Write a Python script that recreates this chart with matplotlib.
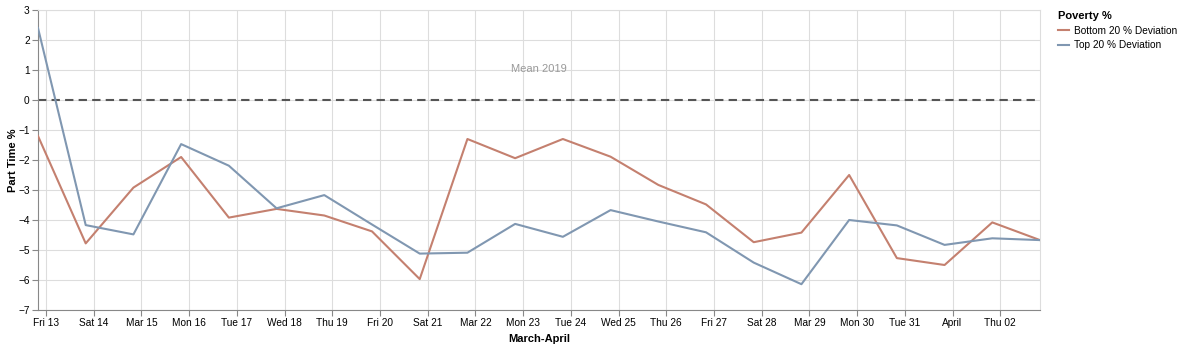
import numpy as np
import pandas as pd
import matplotlib
matplotlib.use("Agg")
import matplotlib.pyplot as plt

plt.rcParams["font.family"] = ["Liberation Sans", "DejaVu Sans"]

# daily deviations from the 2019 mean, Mar 13 - Apr 3
days = pd.date_range("2020-03-13", "2020-04-03", freq="D")
bottom_20 = [-1.2, -4.78, -2.92, -1.9, -3.92, -3.63, -3.85, -4.38, -5.97, -1.3, -1.94,
             -1.3, -1.89, -2.83, -3.48, -4.74, -4.42, -2.5, -5.27, -5.5, -4.08, -4.67]
top_20 = [2.4, -4.17, -4.48, -1.47, -2.19, -3.61, -3.17, -4.15, -5.12, -5.09, -4.13,
          -4.56, -3.67, -4.05, -4.41, -5.42, -6.14, -4.0, -4.18, -4.83, -4.61, -4.67]
tick_days = pd.date_range("2020-03-13", "2020-04-02", freq="D")
tick_labels = ["Fri 13", "Sat 14", "Mar 15", "Mon 16", "Tue 17", "Wed 18", "Thu 19",
               "Fri 20", "Sat 21", "Mar 22", "Mon 23", "Tue 24", "Wed 25", "Thu 26",
               "Fri 27", "Sat 28", "Mar 29", "Mon 30", "Tue 31", "April", "Thu 02"]
mean_2019 = 0

# timestamps are UTC midnight, shown in local time (UTC-4)
x = days - pd.Timedelta(hours=4)

RED = "#c4806f"
BLUE = "#8097b1"

fig = plt.figure(figsize=(11.8, 3.47), dpi=100)
ax = fig.add_axes([38 / 1180, 37 / 347, 1002 / 1180, 300 / 347])

ax.plot(x, bottom_20, color=RED, lw=1.5, label="Bottom 20 % Deviation", zorder=3)
ax.plot(x, top_20, color=BLUE, lw=1.5, label="Top 20 % Deviation", zorder=3)
ax.axhline(mean_2019, color="#555555", lw=1.5, dashes=(4, 2.5), zorder=2)
ax.text(x[0] + (x[-1] - x[0]) / 2, 1.03, "Mean 2019", color="#999999",
        fontsize=8, ha="center", va="center")

ax.set_xlim(x[0], x[-1])
ax.set_ylim(-7, 3)
ax.set_yticks(np.arange(-7, 4))
ax.set_xticks(tick_days)
ax.set_xticklabels(tick_labels)

ax.grid(True, color="#dddddd", lw=0.8)
ax.set_axisbelow(True)
for side in ["top", "right"]:
    ax.spines[side].set_color("#dddddd")
    ax.spines[side].set_linewidth(0.8)
for side in ["bottom", "left"]:
    ax.spines[side].set_color("#888888")
    ax.spines[side].set_linewidth(0.8)
ax.tick_params(colors="#888888", labelcolor="black", labelsize=7.3, length=4, width=0.8, pad=2)

ax.set_xlabel("March-April", fontsize=8, fontweight="bold", labelpad=4)
ax.set_ylabel("Part Time %", fontsize=8, fontweight="bold", labelpad=0)

leg = ax.legend(loc="upper left", bbox_to_anchor=(1049 / 1180, 1 - 2 / 347),
                bbox_transform=fig.transFigure, frameon=False, title="Poverty %",
                fontsize=7.3, title_fontproperties={"weight": "bold", "size": 8},
                handlelength=1.1, handletextpad=0.5, labelspacing=0.45, alignment="left")

fig.savefig("out.png", dpi=100)
